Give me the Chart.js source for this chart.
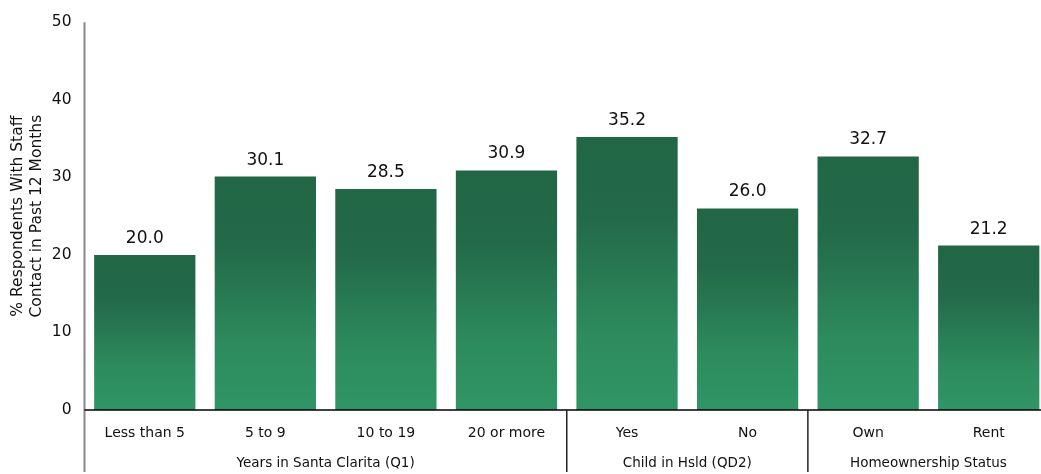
<!DOCTYPE html>
<html>
<head>
<meta charset="utf-8">
<script src="https://cdn.jsdelivr.net/npm/chart.js@4"></script>
<style>
  html, body { margin: 0; padding: 0; background: #fff; overflow: hidden; }
  #wrap { width: 1049px; height: 474px; }
</style>
</head>
<body>
<div id="wrap"><canvas id="contactChart" width="1049" height="474"></canvas></div>
<script>
// % respondents with staff contact, by subgroup
const categories = ['Less than 5', '5 to 9', '10 to 19', '20 or more', 'Yes', 'No', 'Own', 'Rent'];
const values = [20.0, 30.1, 28.5, 30.9, 35.2, 26.0, 32.7, 21.2];
const groups = ['Years in Santa Clarita (Q1)', 'Child in Hsld (QD2)', 'Homeownership Status'];
const groupSizes = [4, 2, 2];
const yTicks = [0, 10, 20, 30, 40, 50];

const FONT = '"DejaVu Sans", Verdana, sans-serif';

// vertical gradient per bar, dark at the top, lighter near the base
function barGradient(context) {
  const chart = context.chart;
  const y = chart.scales.y;
  if (!y || context.dataIndex === undefined) return '#2a7d55';
  const top = y.getPixelForValue(values[context.dataIndex]);
  const bottom = y.getPixelForValue(0);
  if (!isFinite(top) || !isFinite(bottom) || top >= bottom) return '#2a7d55';
  const g = chart.ctx.createLinearGradient(0, top, 0, bottom);
  g.addColorStop(0, '#216645');
  g.addColorStop(0.3, '#236a4a');
  g.addColorStop(0.72, '#2d8b5d');
  g.addColorStop(1, '#309566');
  return g;
}

const extras = {
  id: 'extras',
  afterDatasetsDraw(chart) {
    const ctx = chart.ctx;
    const area = chart.chartArea;
    const meta = chart.getDatasetMeta(0);

    // value labels
    ctx.save();
    ctx.fillStyle = '#111';
    ctx.font = '17px ' + FONT;
    ctx.textAlign = 'center';
    ctx.textBaseline = 'bottom';
    meta.data.forEach((bar, i) => {
      ctx.fillText(values[i].toFixed(1), bar.x, bar.y - 8);
    });

    // y axis line
    ctx.strokeStyle = '#888';
    ctx.lineWidth = 2;
    ctx.beginPath();
    ctx.moveTo(area.left, area.top);
    ctx.lineTo(area.left, 472);
    ctx.stroke();

    // zero line
    ctx.strokeStyle = '#000';
    ctx.lineWidth = 1.5;
    ctx.beginPath();
    ctx.moveTo(area.left, area.bottom);
    ctx.lineTo(area.right, area.bottom);
    ctx.stroke();

    // group separators and labels
    const step = (area.right - area.left) / categories.length;
    ctx.fillStyle = '#111';
    ctx.font = '13.5px ' + FONT;
    ctx.textBaseline = 'middle';
    let start = 0;
    groupSizes.forEach((n, gi) => {
      const x0 = area.left + start * step;
      const x1 = area.left + (start + n) * step;
      ctx.fillText(groups[gi], (x0 + x1) / 2, 463);
      if (gi > 0) {
        ctx.strokeStyle = '#222';
        ctx.lineWidth = 1.5;
        ctx.beginPath();
        ctx.moveTo(x0, area.bottom);
        ctx.lineTo(x0, 472);
        ctx.stroke();
      }
      start += n;
    });
    ctx.restore();
  }
};

const ctx = document.getElementById('contactChart').getContext('2d');
const contactChart = new Chart(ctx, {
  type: 'bar',
  data: {
    labels: categories,
    datasets: [{
      data: values,
      backgroundColor: barGradient,
      borderWidth: 0,
      barPercentage: 0.84,
      categoryPercentage: 1.0
    }]
  },
  options: {
    responsive: false,
    animation: false,
    layout: { padding: { top: 15, right: 0, bottom: 0, left: 0 } },
    plugins: {
      legend: { display: false },
      tooltip: { enabled: false }
    },
    scales: {
      x: {
        grid: { display: false, drawTicks: false },
        border: { display: false },
        ticks: {
          color: '#111',
          font: { family: FONT, size: 14 },
          padding: 15,
          maxRotation: 0,
          autoSkip: false
        },
        afterFit(scale) { scale.height = 64; }
      },
      y: {
        min: 0,
        max: 50,
        afterBuildTicks(scale) { scale.ticks = yTicks.map(v => ({ value: v })); },
        grid: { display: false, drawTicks: false },
        border: { display: false },
        ticks: {
          color: '#111',
          font: { family: FONT, size: 15.5 },
          padding: 13
        },
        title: {
          display: true,
          text: ['% Respondents With Staff', 'Contact in Past 12 Months'],
          color: '#111',
          font: { family: FONT, size: 15.5, lineHeight: 1.25 },
          padding: { top: 8, bottom: 4 }
        },
        afterFit(scale) { scale.width = 84.5; }
      }
    }
  },
  plugins: [extras]
});
</script>
</body>
</html>
